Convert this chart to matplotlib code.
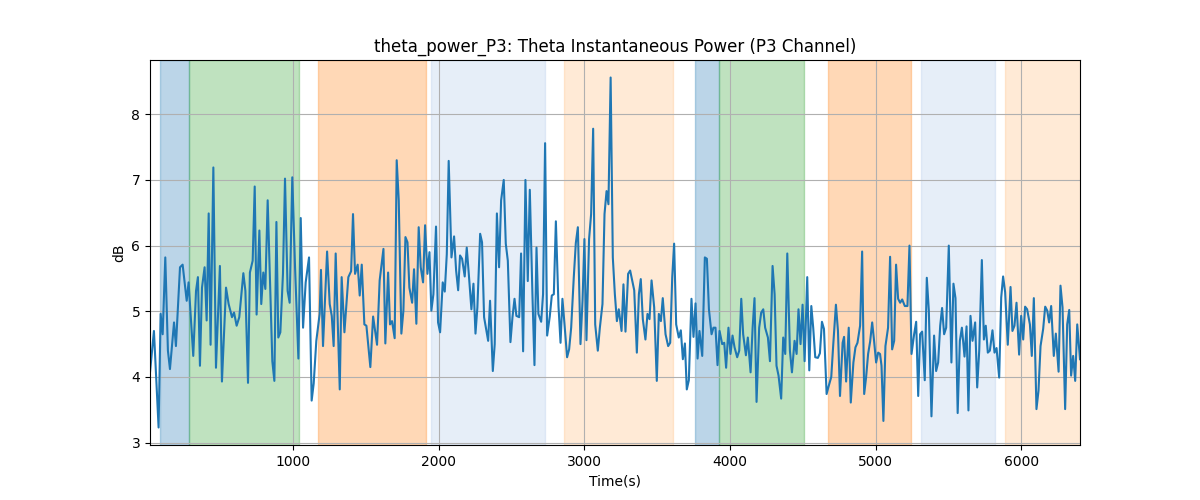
import numpy as np
import matplotlib
matplotlib.use("Agg")
import matplotlib.pyplot as plt

# time (s) and theta power (dB)
times = [18, 45, 77, 91, 105, 123, 141, 155, 183, 196, 224, 242, 270, 283, 315, 334, 347, 361, 375, 393,
         407, 421, 434, 453, 471, 498, 512, 540, 558, 581, 595, 613, 631, 659, 673, 691, 704, 723, 737, 750,
         769, 782, 796, 810, 826,
         858, 872, 886, 899, 913, 931, 945, 963, 977, 995, 1014, 1037, 1053, 1069, 1087, 1110, 1128, 1142, 1160, 1183,
         1192, 1206, 1234, 1252, 1266, 1279, 1293, 1321, 1334, 1353, 1380, 1399, 1412, 1426, 1444, 1458, 1472, 1490, 1504, 1531,
         1550, 1577, 1595, 1621,
         1634, 1653, 1666, 1680, 1698, 1712, 1726, 1744, 1758, 1772, 1786, 1799, 1818, 1831, 1847, 1863, 1877, 1893, 1907, 1923,
         1937, 1950, 1964, 1982, 1996, 2010, 2028, 2042, 2056, 2069, 2088, 2106, 2120, 2134, 2147, 2161, 2179, 2193, 2207, 2225,
         2239, 2253, 2266, 2285, 2298, 2312, 2340, 2353, 2372, 2385, 2400,
         2415, 2429, 2447, 2461, 2475, 2493, 2507, 2521, 2534, 2553, 2566, 2580, 2596, 2612, 2626, 2644, 2658, 2672, 2685, 2704,
         2717, 2731, 2745, 2763, 2777, 2791, 2805, 2823, 2837, 2850, 2864, 2882, 2896, 2910, 2928, 2942, 2956, 2974, 2988, 3001,
         3015, 3033, 3047, 3061, 3075, 3093, 3107, 3125, 3139, 3153, 3166, 3181,
         3196, 3210, 3224, 3237, 3256, 3269, 3283, 3301, 3315, 3329, 3343, 3361, 3375, 3388, 3402, 3420, 3434, 3448, 3462, 3480,
         3498, 3512, 3526, 3539, 3558, 3576, 3590, 3604, 3617, 3631, 3649, 3663, 3677, 3691, 3704, 3718, 3736, 3750, 3764, 3778,
         3791, 3810, 3828, 3842, 3856, 3874, 3887, 3901, 3915, 3929, 3947, 3961, 3974, 3990,
         4004, 4018, 4032, 4050, 4064, 4078, 4091, 4110, 4123, 4142, 4156, 4169, 4183, 4201, 4215, 4229, 4242, 4261, 4275, 4293,
         4307, 4320, 4334, 4352, 4366, 4380, 4394, 4412, 4426, 4444, 4458, 4471, 4485, 4499, 4513, 4531, 4545, 4559, 4572, 4586,
         4604, 4618, 4632, 4646, 4664, 4677, 4696, 4709, 4728, 4742, 4756, 4774,
         4784, 4798, 4816, 4830, 4848, 4862, 4876, 4894, 4908, 4922, 4935, 4949, 4963, 4977, 4990, 5004, 5018, 5031, 5041, 5054,
         5068, 5086, 5100, 5114, 5128, 5141, 5155, 5169, 5183, 5201, 5219, 5233, 5247, 5265, 5279, 5293, 5306, 5320, 5338, 5352,
         5366, 5384, 5402, 5416, 5430, 5444, 5457, 5471, 5485, 5503, 5521, 5535, 5549, 5564,
         5579, 5593, 5611, 5625, 5638, 5652, 5666, 5684, 5698, 5712, 5730, 5744, 5757, 5771, 5785, 5803, 5817, 5831, 5849, 5863,
         5876, 5890, 5908, 5927, 5940, 5954, 5968, 5986, 6000, 6014, 6027, 6041, 6060, 6073, 6087, 6105, 6119, 6133, 6151, 6165,
         6179, 6192, 6206, 6224, 6238, 6257, 6270, 6284, 6302, 6316, 6330, 6343, 6357, 6371, 6385, 6404]
power = [4.07, 4.70, 3.23, 4.96, 4.65, 5.82, 4.40, 4.12, 4.83, 4.47, 5.67, 5.71, 5.16, 5.44, 4.32, 5.31, 5.52, 4.17, 5.36, 5.67,
         4.86, 6.49, 4.49, 7.19, 4.14, 5.69, 3.93, 5.36, 5.11, 4.91, 4.98, 4.78, 4.91, 5.58, 5.31, 3.91, 5.59, 5.77, 6.90, 4.95,
         6.23, 5.11, 5.59, 5.34, 6.69,
         4.24, 3.94, 6.36, 4.60, 4.68, 5.57, 7.02, 5.31, 5.13, 7.04, 5.67, 4.28, 6.42, 4.75, 5.44, 5.82, 3.64, 3.90, 4.55, 4.96,
         5.63, 4.47, 5.91, 5.11, 4.93, 4.47, 5.88, 3.81, 5.52, 4.68, 5.52, 5.61, 6.48, 5.57, 5.71, 5.24, 5.71, 4.80, 4.78, 4.15,
         4.92, 4.49, 5.47, 5.95,
         4.51, 5.59, 4.80, 4.85, 4.59, 7.30, 6.69, 4.66, 5.01, 6.13, 6.05, 5.36, 5.13, 5.64, 4.81, 6.28, 5.67, 5.44, 6.31, 5.57,
         5.90, 5.01, 5.26, 6.29, 4.83, 4.68, 5.44, 5.30, 5.87, 7.29, 5.82, 6.14, 5.62, 5.32, 5.85, 5.80, 5.53, 5.97, 5.57, 5.03,
         5.42, 4.66, 5.06, 6.18, 6.05, 4.91, 4.55, 5.16, 4.09, 4.50, 6.49,
         5.67, 6.69, 7.00, 6.03, 5.77, 4.53, 4.91, 5.19, 4.93, 4.91, 5.88, 4.39, 7.00, 5.46, 6.85, 5.26, 4.18, 5.97, 4.96, 4.84,
         5.26, 7.56, 4.63, 4.92, 5.24, 5.26, 6.37, 5.08, 4.52, 5.19, 4.81, 4.30, 4.42, 4.75, 5.52, 6.04, 6.28, 4.50, 5.16, 6.10,
         4.56, 6.10, 6.48, 7.78, 4.80, 4.40, 4.75, 5.11, 6.48, 6.83, 6.63, 8.56,
         5.82, 5.26, 4.85, 5.03, 4.70, 5.41, 4.69, 5.57, 5.62, 5.47, 5.32, 4.37, 5.26, 5.49, 4.88, 4.57, 4.96, 4.88, 5.47, 5.06,
         3.94, 4.96, 4.85, 5.20, 4.65, 4.47, 4.52, 5.52, 6.03, 4.80, 4.60, 4.71, 4.27, 4.51, 3.81, 3.95, 5.19, 4.61, 5.12, 4.28,
         4.70, 4.32, 5.82, 5.80, 5.03, 4.65, 4.75, 4.75, 4.18, 4.70, 4.50, 4.52, 4.14, 4.75,
         4.35, 4.63, 4.45, 4.30, 4.40, 5.19, 4.65, 4.33, 4.60, 4.07, 4.75, 5.20, 3.62, 4.75, 4.98, 5.03, 4.75, 4.60, 4.24, 5.69,
         5.26, 4.17, 4.02, 3.67, 4.60, 4.35, 5.88, 4.40, 4.07, 4.55, 4.35, 5.03, 4.50, 5.10, 4.24, 5.52, 4.10, 5.08, 4.75, 4.30,
         4.29, 4.36, 4.84, 4.73, 3.74, 3.85, 4.00, 4.47, 5.10, 4.70, 3.71, 4.52,
         4.61, 3.93, 4.75, 3.61, 4.22, 4.45, 4.52, 4.78, 5.91, 3.74, 3.99, 4.35, 4.54, 4.83, 4.55, 4.22, 4.37, 4.35, 4.17, 3.33,
         4.47, 4.75, 5.83, 4.42, 4.55, 5.71, 5.19, 5.13, 5.18, 5.08, 5.08, 6.00, 4.35, 4.65, 4.84, 3.71, 4.65, 4.69, 3.95, 5.51,
         5.01, 3.40, 4.63, 4.09, 4.22, 4.78, 5.05, 4.65, 4.75, 6.00, 4.22, 5.42, 5.20, 3.45,
         4.55, 4.75, 4.31, 4.77, 3.49, 4.93, 4.55, 4.83, 3.84, 4.40, 5.78, 4.57, 4.78, 4.37, 4.40, 4.71, 4.37, 4.44, 3.99, 5.21,
         5.53, 5.29, 4.49, 5.37, 4.70, 4.78, 5.13, 4.34, 4.93, 4.57, 5.07, 5.03, 4.80, 4.32, 5.20, 3.51, 3.79, 4.47, 4.73, 5.07,
         5.01, 4.83, 5.08, 4.32, 4.66, 4.08, 5.39, 5.06, 3.51, 4.80, 5.02, 4.02, 4.32, 3.94, 4.80, 4.27]

# shaded segments (start, end, colour, alpha)
span_start = [87, 286, 1172, 1948, 2861, 3761, 3926, 4675, 5314, 5890]
span_end = [286, 1041, 1914, 2731, 3610, 3926, 4510, 5245, 5821, 6410]
span_color = ['tab:blue', 'tab:green', 'tab:orange', '#aec7e8', '#ffbb78',
              'tab:blue', 'tab:green', 'tab:orange', '#aec7e8', '#ffbb78']

fig, ax = plt.subplots(figsize=(12, 5), dpi=100)
for s, e, c in zip(span_start, span_end, span_color):
    ax.axvspan(s, e, color=c, alpha=0.3)
ax.plot(times, power, color='tab:blue')
ax.set_xlim(times[0], times[-1])
ax.set_title('theta_power_P3: Theta Instantaneous Power (P3 Channel)')
ax.set_xlabel('Time(s)')
ax.set_ylabel('dB')
ax.grid(True)
fig.savefig('out.png')
